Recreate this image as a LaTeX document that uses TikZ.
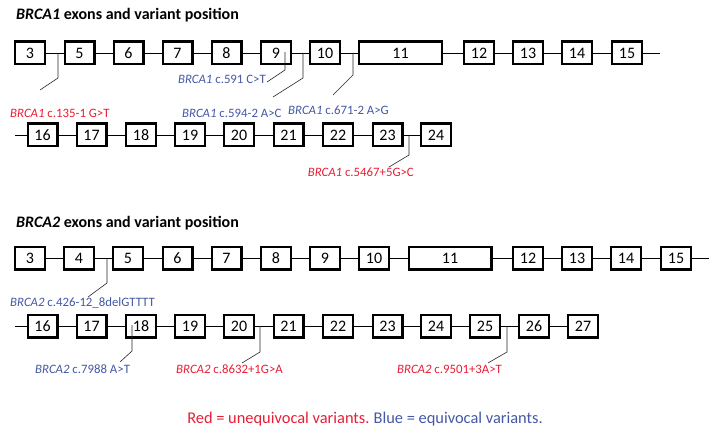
\documentclass[tikz,border=0pt]{standalone}
\usepackage{fontspec}
\setmainfont{Carlito}
\definecolor{varred}{RGB}{232,30,52}
\definecolor{varblue}{RGB}{68,88,165}
\begin{document}
\begin{tikzpicture}[x=1pt,y=-1pt,
    exon/.style={draw, line width=2.3pt, minimum width=29.7pt, minimum height=22.7pt, inner sep=0pt, font=\fontsize{16}{16}\selectfont},
    longexon/.style={exon, minimum width=82.7pt},
    intron/.style={line width=0.8pt},
    varline/.style={line width=0.6pt, black!85},
    lab/.style={inner sep=0pt, font=\fontsize{12.8}{12.8}\selectfont},
    title/.style={inner sep=0pt, anchor=west, font=\fontsize{16}{16}\selectfont\bfseries}]
  \useasboundingbox (0,0) rectangle (718,433);
  % BRCA1
  \node[title] (t1) at (16,15) {\textit{BRCA1} exons and variant position};
  \node[exon] (a3) at (30,53) {3}; \node[exon] (a5) at (79.5,53) {5}; \node[exon] (a6) at (128.5,53) {6};
  \node[exon] (a7) at (177.5,53) {7}; \node[exon] (a8) at (226.5,53) {8}; \node[exon] (a9) at (276,53) {9};
  \node[exon] (a10) at (325,53) {10}; \node[longexon] (a11) at (400.5,53) {11}; \node[exon] (a12) at (479,53) {12};
  \node[exon] (a13) at (528,53) {13}; \node[exon] (a14) at (577,53) {14}; \node[exon] (a15) at (627,53) {15};
  \coordinate (a15e) at (660,53);
  \draw[intron] (a3) -- (a5); \draw[intron] (a5) -- (a6); \draw[intron] (a6) -- (a7); \draw[intron] (a7) -- (a8);
  \draw[intron] (a8) -- (a9); \draw[intron] (a9) -- (a10); \draw[intron] (a10) -- (a11); \draw[intron] (a11) -- (a12);
  \draw[intron] (a12) -- (a13); \draw[intron] (a13) -- (a14); \draw[intron] (a14) -- (a15); \draw[intron] (a15) -- (a15e);
  \coordinate (a16s) at (15,135);
  \node[exon] (a16) at (42.5,135) {16}; \node[exon] (a17) at (91.5,135) {17}; \node[exon] (a18) at (141,135) {18};
  \node[exon] (a19) at (190,135) {19}; \node[exon] (a20) at (239,135) {20}; \node[exon] (a21) at (288.5,135) {21};
  \node[exon] (a22) at (338,135) {22}; \node[exon] (a23) at (387.5,135) {23}; \node[exon] (a24) at (436,135) {24};
  \draw[intron] (a16s) -- (a16); \draw[intron] (a16) -- (a17); \draw[intron] (a17) -- (a18); \draw[intron] (a18) -- (a19);
  \draw[intron] (a19) -- (a20); \draw[intron] (a20) -- (a21); \draw[intron] (a21) -- (a22); \draw[intron] (a22) -- (a23);
  \draw[intron] (a23) -- (a24);
  % BRCA1 variants
  \coordinate (v1) at (58,53); \coordinate (v1b) at (58,78); \coordinate (v1e) at (40,90);
  \draw[varline] (v1) -- (v1b) -- (v1e);
  \node[lab, anchor=west, varred] (l1) at (10,113) {\textit{BRCA1} c.135-1 G>T};
  \coordinate (v2) at (285,52); \coordinate (v2b) at (285,70); \coordinate (v2e) at (267,82);
  \draw[varline] (v2) -- (v2b) -- (v2e);
  \node[lab, anchor=east, varblue] (l2) at (266,79) {\textit{BRCA1} c.591 C>T};
  \coordinate (v3) at (303,53); \coordinate (v3b) at (303,78); \coordinate (v3e) at (273,97);
  \draw[varline] (v3) -- (v3b) -- (v3e);
  \node[lab, anchor=west, varblue] (l3) at (182,113) {\textit{BRCA1} c.594-2 A>C};
  \coordinate (v4) at (353,53); \coordinate (v4b) at (353,75); \coordinate (v4e) at (333,95);
  \draw[varline] (v4) -- (v4b) -- (v4e);
  \node[lab, anchor=west, varblue] (l4) at (288,110) {\textit{BRCA1} c.671-2 A>G};
  \coordinate (v5) at (409,135); \coordinate (v5b) at (409,155); \coordinate (v5e) at (389,167);
  \draw[varline] (v5) -- (v5b) -- (v5e);
  \node[lab, anchor=east, varred] (l5) at (414,172) {\textit{BRCA1} c.5467+5G>C};
  % BRCA2
  \node[title] (t2) at (16,223) {\textit{BRCA2} exons and variant position};
  \node[exon] (b3) at (30,258) {3}; \node[exon] (b4) at (79,258) {4}; \node[exon] (b5) at (128,258) {5};
  \node[exon] (b6) at (177.5,258) {6}; \node[exon] (b7) at (226.5,258) {7}; \node[exon] (b8) at (276,258) {8};
  \node[exon] (b9) at (325,258) {9}; \node[exon] (b10) at (374,258) {10}; \node[longexon] (b11) at (450,258) {11};
  \node[exon] (b12) at (528,258) {12}; \node[exon] (b13) at (577,258) {13}; \node[exon] (b14) at (626,258) {14};
  \node[exon] (b15) at (676,258) {15};
  \coordinate (b15e) at (709,258);
  \draw[intron] (b3) -- (b4); \draw[intron] (b4) -- (b5); \draw[intron] (b5) -- (b6); \draw[intron] (b6) -- (b7);
  \draw[intron] (b7) -- (b8); \draw[intron] (b8) -- (b9); \draw[intron] (b9) -- (b10); \draw[intron] (b10) -- (b11);
  \draw[intron] (b11) -- (b12); \draw[intron] (b12) -- (b13); \draw[intron] (b13) -- (b14); \draw[intron] (b14) -- (b15);
  \draw[intron] (b15) -- (b15e);
  \coordinate (b16s) at (15,326);
  \node[exon] (b16) at (42.5,326) {16}; \node[exon] (b17) at (91.5,326) {17}; \node[exon] (b18) at (141,326) {18};
  \node[exon] (b19) at (190,326) {19}; \node[exon] (b20) at (239,326) {20}; \node[exon] (b21) at (288.5,326) {21};
  \node[exon] (b22) at (338,326) {22}; \node[exon] (b23) at (387.5,326) {23}; \node[exon] (b24) at (436,326) {24};
  \node[exon] (b25) at (485,326) {25}; \node[exon] (b26) at (534,326) {26}; \node[exon] (b27) at (583,326) {27};
  \draw[intron] (b16s) -- (b16); \draw[intron] (b16) -- (b17); \draw[intron] (b17) -- (b18); \draw[intron] (b18) -- (b19);
  \draw[intron] (b19) -- (b20); \draw[intron] (b20) -- (b21); \draw[intron] (b21) -- (b22); \draw[intron] (b22) -- (b23);
  \draw[intron] (b23) -- (b24); \draw[intron] (b24) -- (b25); \draw[intron] (b25) -- (b26); \draw[intron] (b26) -- (b27);
  % BRCA2 variants
  \coordinate (w1) at (107,258); \coordinate (w1b) at (107,283); \coordinate (w1e) at (88,297);
  \draw[varline] (w1) -- (w1b) -- (w1e);
  \node[lab, anchor=west, varblue] (m1) at (10,303) {\textit{BRCA2} c.426-12\_8delGTTTT};
  \coordinate (w2) at (132,325); \coordinate (w2b) at (132,351); \coordinate (w2e) at (120,362);
  \draw[varline] (w2) -- (w2b) -- (w2e);
  \node[lab, anchor=west, varblue] (m2) at (35,369) {\textit{BRCA2} c.7988 A>T};
  \coordinate (w3) at (260,326); \coordinate (w3b) at (260,352); \coordinate (w3e) at (242,363);
  \draw[varline] (w3) -- (w3b) -- (w3e);
  \node[lab, anchor=west, varred] (m3) at (176,369) {\textit{BRCA2} c.8632+1G>A};
  \coordinate (w4) at (507,326); \coordinate (w4b) at (507,352); \coordinate (w4e) at (488,363);
  \draw[varline] (w4) -- (w4b) -- (w4e);
  \node[lab, anchor=west, varred] (m4) at (397,369) {\textit{BRCA2} c.9501+3A>T};
  % legend
  \node[inner sep=0pt, font=\fontsize{16.4}{16.4}\selectfont] (key) at (365,419)
    {\textcolor{varred}{Red = unequivocal variants.}\hspace{0.25em}\textcolor{varblue}{Blue = equivocal variants.}};
\end{tikzpicture}
\end{document}
